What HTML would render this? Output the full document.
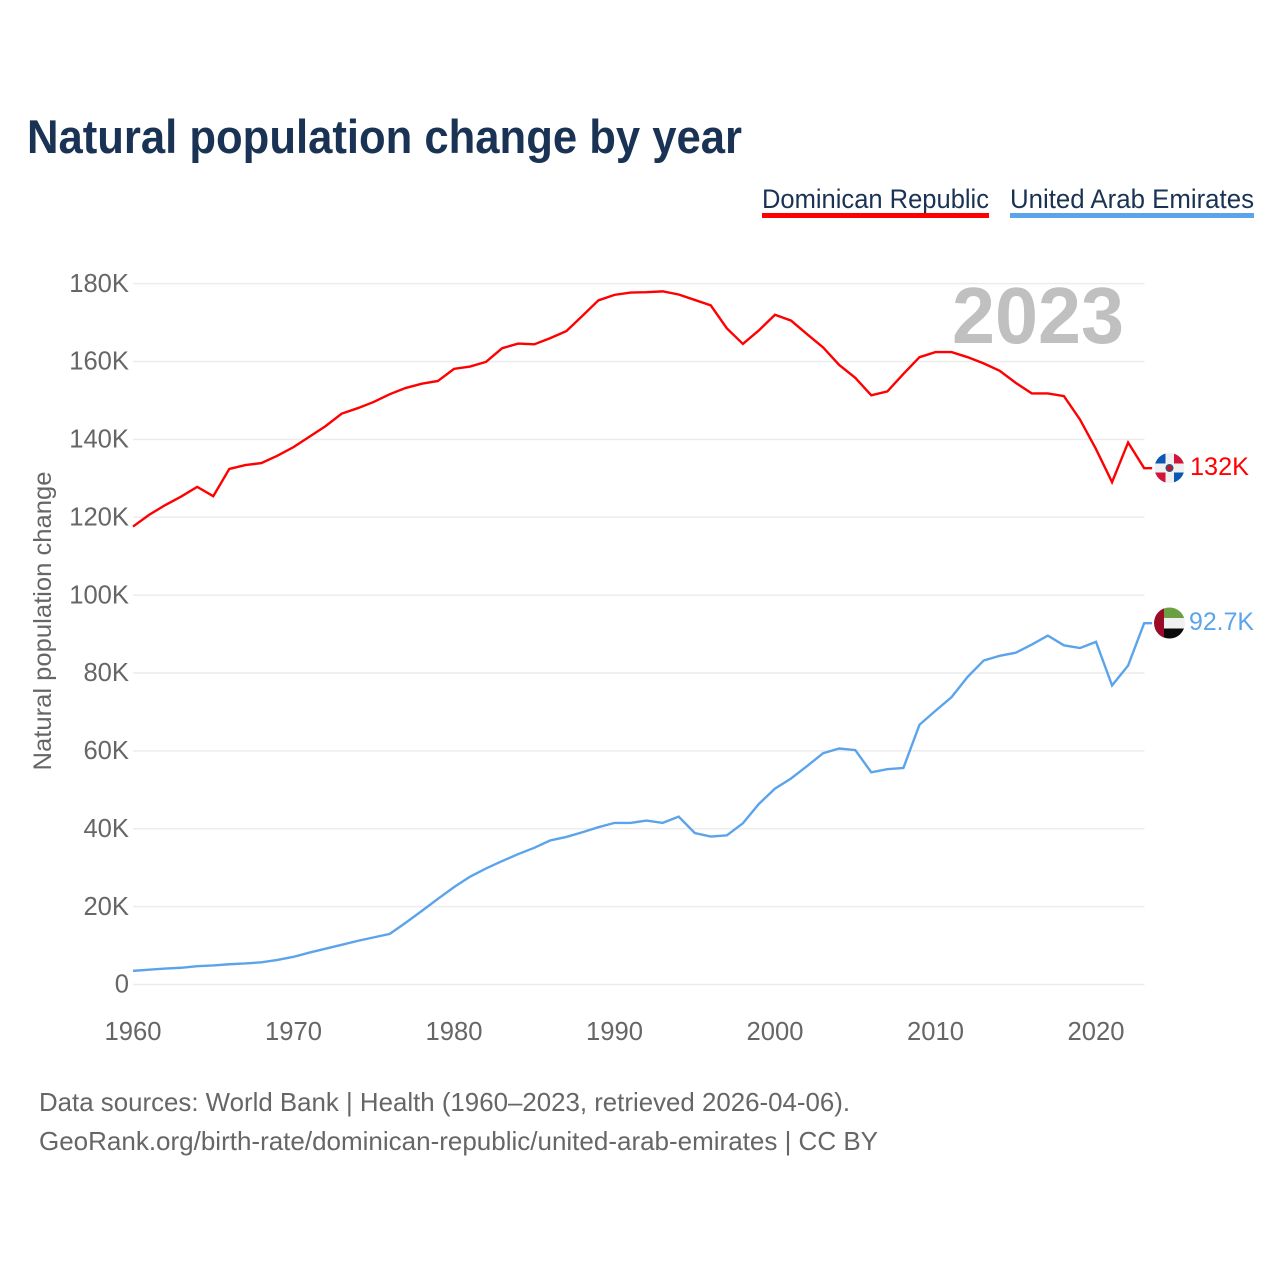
<!DOCTYPE html>
<html lang="en">
<head>
<meta charset="utf-8">
<title>Natural population change by year</title>
<style>
html,body{margin:0;padding:0;background:#fff;}
svg{display:block;font-family:"Liberation Sans",sans-serif;}
</style>
</head>
<body>
<svg id="chart" xmlns="http://www.w3.org/2000/svg" width="1280" height="1280" viewBox="0 0 1280 1280">
  <rect x="0" y="0" width="1280" height="1280" fill="#ffffff"/>
  <text x="27" y="153" font-size="47" font-weight="700" fill="#1a3354" textLength="715" lengthAdjust="spacingAndGlyphs">Natural population change by year</text>

  <g>
    <g>
      <text x="762" y="208" font-size="27" fill="#1a3354" textLength="227" lengthAdjust="spacingAndGlyphs">Dominican Republic</text>
      <rect x="762" y="213" width="227" height="5" fill="#ff0000"/>
    </g>
    <g>
      <text x="1010" y="208" font-size="27" fill="#1a3354" textLength="244" lengthAdjust="spacingAndGlyphs">United Arab Emirates</text>
      <rect x="1010" y="213" width="244" height="5" fill="#5ba4ec"/>
    </g>
  </g>

  <g id="grid"></g>
  <g id="yAxis"></g>
  <g id="xAxis"></g>

  <text transform="translate(51,621) rotate(-90)" text-anchor="middle" font-size="25" fill="#666666" textLength="299" lengthAdjust="spacingAndGlyphs">Natural population change</text>

  <text x="952" y="343" font-size="80" font-weight="700" fill="#c0c0c0" textLength="172" lengthAdjust="spacingAndGlyphs">2023</text>

  <g id="series"></g>

  <defs>
    <clipPath id="clipDo"><circle cx="1169.5" cy="468" r="15"/></clipPath>
    <clipPath id="clipAe"><circle cx="1169.5" cy="623" r="15.5"/></clipPath>
  </defs>

  <g clip-path="url(#clipDo)">
    <rect x="1154" y="452" width="32" height="32" fill="#f0f0f0"/>
    <rect x="1154" y="452" width="11.5" height="11.5" fill="#0b57b4"/>
    <rect x="1174" y="452" width="12" height="11.5" fill="#d3143a"/>
    <rect x="1154" y="472.5" width="11.5" height="12" fill="#d3143a"/>
    <rect x="1174" y="472.5" width="12" height="12" fill="#0b57b4"/>
    <circle cx="1169.5" cy="468" r="4" fill="#3d4f6d"/>
    <circle cx="1169.5" cy="468" r="2.4" fill="#c8102e"/>
  </g>
  <g clip-path="url(#clipAe)">
    <rect x="1154" y="607" width="32" height="11" fill="#6c9e42"/>
    <rect x="1154" y="618" width="32" height="10.5" fill="#f0f0f0"/>
    <rect x="1154" y="628.5" width="32" height="11" fill="#0a0a0a"/>
    <rect x="1154" y="607" width="10" height="32" fill="#9b0a26"/>
  </g>

  <text id="labelDo" x="1190" y="475" font-size="25" fill="#ff0000" textLength="59" lengthAdjust="spacingAndGlyphs">132K</text>
  <text id="labelAe" x="1189" y="630" font-size="25" fill="#5ba4ec" textLength="65" lengthAdjust="spacingAndGlyphs">92.7K</text>

  <text x="39" y="1111" font-size="26" fill="#666666" textLength="811" lengthAdjust="spacingAndGlyphs">Data sources: World Bank | Health (1960–2023, retrieved 2026-04-06).</text>
  <text x="39" y="1150" font-size="26" fill="#666666" textLength="839" lengthAdjust="spacingAndGlyphs">GeoRank.org/birth-rate/dominican-republic/united-arab-emirates | CC BY</text>
</svg>

<script>
const startYear = 1960;
const xTickYears = [1960, 1970, 1980, 1990, 2000, 2010, 2020];
const yTickValues = [0, 20, 40, 60, 80, 100, 120, 140, 160, 180];
const yTickLabels = ['0', '20K', '40K', '60K', '80K', '100K', '120K', '140K', '160K', '180K'];
const dominicanRepublic = [
  117.6, 120.6, 123.1, 125.3, 127.8, 125.4, 132.4, 133.4, 133.9, 135.8,
  138.0, 140.7, 143.4, 146.6, 148.0, 149.6, 151.6, 153.2, 154.3, 155.0,
  158.1, 158.7, 159.9, 163.4, 164.6, 164.4, 166.0, 167.8, 171.7, 175.7,
  177.1, 177.7, 177.8, 178.0, 177.2, 175.8, 174.4, 168.5, 164.5, 168.0,
  172.0, 170.5, 167.0, 163.6, 159.1, 155.8, 151.3, 152.3, 156.8, 161.1,
  162.4, 162.4, 161.1, 159.5, 157.6, 154.5, 151.8, 151.8, 151.1, 145.1,
  137.5, 129.0, 139.2, 132.6
];
const unitedArabEmirates = [
  3.5, 3.8, 4.1, 4.3, 4.7, 4.9, 5.2, 5.4, 5.7, 6.3,
  7.1, 8.2, 9.2, 10.2, 11.2, 12.1, 13.0, 15.9, 18.9, 22.0,
  25.0, 27.7, 29.8, 31.7, 33.5, 35.1, 37.0, 37.9, 39.1, 40.4,
  41.5, 41.5, 42.1, 41.5, 43.1, 38.9, 38.0, 38.3, 41.4, 46.4,
  50.3, 52.9, 56.1, 59.4, 60.6, 60.2, 54.5, 55.3, 55.6, 66.7,
  70.3, 73.8, 79.0, 83.2, 84.4, 85.2, 87.3, 89.6, 87.1, 86.4,
  88.0, 76.8, 81.9, 92.8
];

const NS = 'http://www.w3.org/2000/svg';
const xScale = function (year) { return 133 + (year - 1960) * 16.05; };
const yScale = function (value) { return 984.5 - value * 3.894; };
const plotRight = 1144.5;

const gridGroup = document.getElementById('grid');
const yAxisGroup = document.getElementById('yAxis');
const xAxisGroup = document.getElementById('xAxis');
const seriesGroup = document.getElementById('series');

yTickValues.forEach(function (value, i) {
  const line = document.createElementNS(NS, 'line');
  
  
  line.setAttribute('x1', 133);
  line.setAttribute('x2', plotRight);
  line.setAttribute('y1', yScale(value));
  line.setAttribute('y2', yScale(value));
  line.setAttribute('stroke', '#ececec');
  line.setAttribute('stroke-width', '1.5');
  gridGroup.appendChild(line);

  const label = document.createElementNS(NS, 'text');
  
  
  label.setAttribute('x', 129);
  label.setAttribute('y', yScale(value) + 8.2);
  label.setAttribute('text-anchor', 'end');
  label.setAttribute('font-size', '25.6');
  label.setAttribute('fill', '#666666');
  label.textContent = yTickLabels[i];
  yAxisGroup.appendChild(label);
});

xTickYears.forEach(function (year) {
  const label = document.createElementNS(NS, 'text');
  
  
  label.setAttribute('x', xScale(year));
  label.setAttribute('y', 1040);
  label.setAttribute('text-anchor', 'middle');
  label.setAttribute('font-size', '25.6');
  label.setAttribute('fill', '#666666');
  label.textContent = String(year);
  xAxisGroup.appendChild(label);
});

function linePath(values) {
  const parts = values.map(function (value, i) {
    return (i ? 'L' : 'M') + xScale(startYear + i).toFixed(2) + ' ' + yScale(value).toFixed(2);
  });
  const last = values[values.length - 1];
  parts.push('L' + (xScale(startYear + values.length - 1) + 8).toFixed(2) + ' ' + yScale(last).toFixed(2));
  return parts.join(' ');
}

const lineDo = document.createElementNS(NS, 'path');


lineDo.setAttribute('d', linePath(dominicanRepublic));
lineDo.setAttribute('fill', 'none');
lineDo.setAttribute('stroke', '#ff0000');
lineDo.setAttribute('stroke-width', '2.4');
seriesGroup.appendChild(lineDo);

const lineAe = document.createElementNS(NS, 'path');


lineAe.setAttribute('d', linePath(unitedArabEmirates));
lineAe.setAttribute('fill', 'none');
lineAe.setAttribute('stroke', '#5ba4ec');
lineAe.setAttribute('stroke-width', '2.4');
seriesGroup.appendChild(lineAe);
</script>
</body>
</html>
